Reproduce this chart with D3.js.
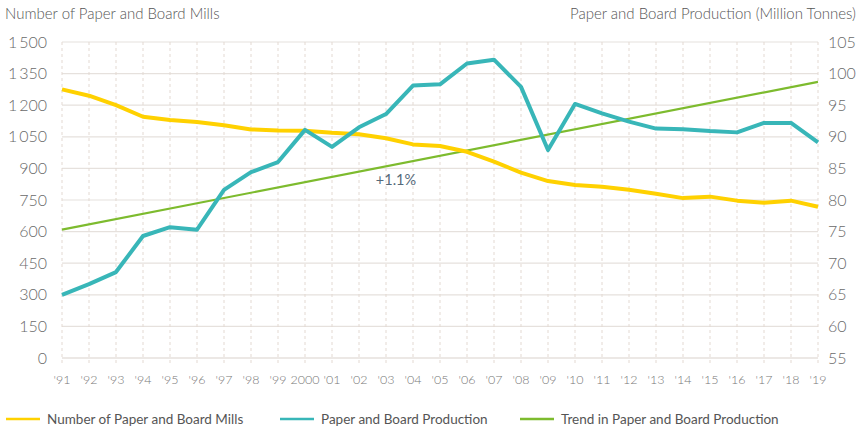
<!DOCTYPE html>
<html><head><meta charset="utf-8">
<script src="https://cdn.jsdelivr.net/npm/d3@7"></script>
<style>
body{margin:0;background:#fff;}
text{font-family:Lato,"Noto Sans",sans-serif;}
</style></head>
<body><svg id="c" width="863" height="428"></svg>
<script>
const years = ["'91","'92","'93","'94","'95","'96","'97","'98","'99","2000","'01","'02","'03","'04","'05","'06","'07","'08","'09","'10","'11","'12","'13","'14","'15","'16","'17","'18","'19"];
const mills = [1275,1245,1200,1145,1130,1120,1105,1085,1080,1079,1069,1062,1043,1014,1006,979,932,880,840,821,813,799,780,759,766,747,737,747,718];
const production = [65.0,66.7,68.6,74.3,75.7,75.3,81.6,84.4,86.0,91.1,88.4,91.5,93.6,98.1,98.3,101.6,102.2,97.9,87.9,95.2,93.7,92.4,91.3,91.2,90.9,90.7,92.2,92.2,89.1];
const trendEnds = [75.3, 98.7];
const leftTicks = [0,150,300,450,600,750,900,1050,1200,1350,1500];
const rightTicks = [55,60,65,70,75,80,85,90,95,100,105];
const seriesNames = ["Number of Paper and Board Mills","Paper and Board Production","Trend in Paper and Board Production"];
const colors = ["#FFD100","#38B6B8","#7DBB2E"];
const trendLabel = "+1.1%";

const svg = d3.select("#c");
const L=62,R=818,T=42,B=358;
const x = d3.scalePoint().domain(years).range([L,R]);
const yL = d3.scaleLinear().domain([0,1500]).range([B,T]);
const yR = d3.scaleLinear().domain([55,105]).range([B,T]);
const fmt = v => { const s=String(v); return s.length>3 ? s.slice(0,s.length-3)+"\u2009"+s.slice(-3) : s; };

// horizontal grid
svg.append("g").selectAll("line").data(leftTicks).join("line")
  .attr("x1",L).attr("x2",R).attr("y1",d=>yL(d)).attr("y2",d=>yL(d))
  .attr("stroke",d=>d===0?"#d9d2cc":"#e6e1dd").attr("stroke-width",1.2);
// vertical dashed grid
svg.append("g").selectAll("line").data(years).join("line")
  .attr("x1",d=>x(d)).attr("x2",d=>x(d)).attr("y1",T).attr("y2",B+5)
  .attr("stroke","#e3d9d2").attr("stroke-dasharray","3,3").attr("stroke-width",1);

// left axis labels
svg.append("g").selectAll("text").data(leftTicks).join("text")
  .attr("x",47).attr("y",d=>yL(d)).attr("dy","0.35em").attr("text-anchor","end")
  .attr("fill","#6a6a6a").attr("font-weight",300).attr("font-size",16).text(d=>fmt(d));
// right axis labels
svg.append("g").selectAll("text").data(rightTicks).join("text")
  .attr("x",828).attr("y",d=>yR(d)).attr("dy","0.35em").attr("text-anchor","start")
  .attr("fill","#6a6a6a").attr("font-weight",300).attr("font-size",16).text(d=>d);
// x labels
svg.append("g").selectAll("text").data(years).join("text")
  .attr("x",d=>x(d)).attr("y",380).attr("dy","0.35em").attr("text-anchor","middle")
  .attr("fill","#777").attr("font-weight",300).attr("font-size",12.5).text(d=>d);

// titles
svg.append("text").attr("x",5).attr("y",14).attr("dy","0.35em").attr("fill","#555").attr("font-weight",300).attr("font-size",15).text("Number of Paper and Board Mills");
svg.append("text").attr("x",856).attr("y",14).attr("dy","0.35em").attr("text-anchor","end").attr("fill","#555").attr("font-weight",300).attr("font-size",15).text("Paper and Board Production (Million Tonnes)");

// trend line
svg.append("path").datum(trendEnds.map((v,i)=>[i===0?years[0]:years[years.length-1],v]))
  .attr("d",d3.line().x(d=>x(d[0])).y(d=>yR(d[1])))
  .attr("fill","none").attr("stroke",colors[2]).attr("stroke-width",2.2);

// mills line
svg.append("path").datum(mills)
  .attr("d",d3.line().x((d,i)=>x(years[i])).y(d=>yL(d)))
  .attr("fill","none").attr("stroke",colors[0]).attr("stroke-width",4).attr("stroke-linejoin","round");
// production line
svg.append("path").datum(production)
  .attr("d",d3.line().x((d,i)=>x(years[i])).y(d=>yR(d)))
  .attr("fill","none").attr("stroke",colors[1]).attr("stroke-width",4).attr("stroke-linejoin","round");

// trend label
svg.append("text").attr("x",396).attr("y",180).attr("dy","0.35em").attr("text-anchor","middle")
  .attr("fill","#55697a").attr("font-size",14.5).text(trendLabel);

// legend
const legX=[6,280,520];
const lg = svg.append("g").selectAll("g").data(seriesNames).join("g")
  .attr("transform",(d,i)=>`translate(${legX[i]},419)`);
lg.append("line").attr("x1",0).attr("x2",34).attr("y1",0).attr("y2",0)
  .attr("stroke",(d,i)=>colors[i]).attr("stroke-width",2.5);
lg.append("text").attr("x",41).attr("y",0).attr("dy","0.35em").attr("fill","#555").attr("font-size",13.5).text(d=>d);
</script></body></html>
